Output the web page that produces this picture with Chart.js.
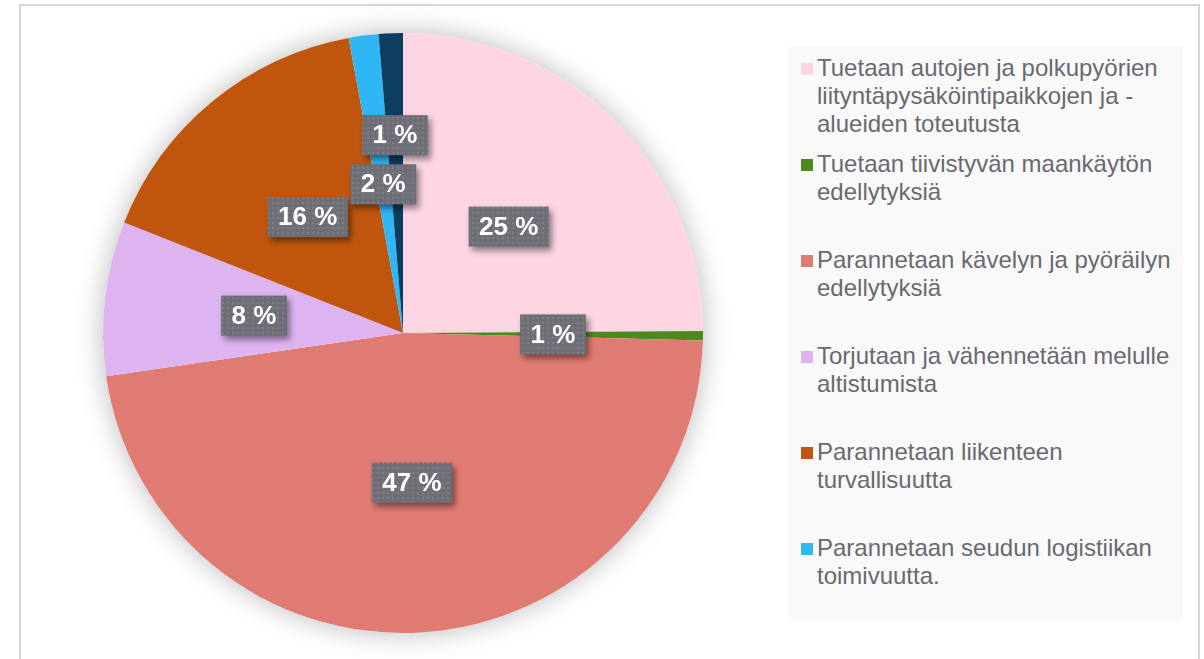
<!DOCTYPE html>
<html lang="fi">
<head>
<meta charset="utf-8">
<title>Toimenpiteiden jakauma</title>
<script src="https://cdn.jsdelivr.net/npm/chart.js@4.4.1/dist/chart.umd.min.js"></script>
<style>
  html, body {
    margin: 0;
    padding: 0;
    width: 1204px;
    height: 659px;
    overflow: hidden;
    background: #ffffff;
    font-family: "Liberation Sans", Arial, sans-serif;
  }
  #frame {
    position: absolute;
    left: 19px;
    top: 4px;
    width: 1177px;
    height: 700px;
    border: 2px solid #d6d6d6;
    border-bottom: none;
  }
  #wrap {
    position: absolute;
    left: 0;
    top: 0;
    width: 1204px;
    height: 659px;
  }
  #legend {
    position: absolute;
    left: 788px;
    top: 47px;
    width: 395px;
    height: 574px;
    background: #f9f9f9;
    box-sizing: border-box;
    padding: 7px 0 0 13px;
  }
  .item {
    display: flex;
    align-items: flex-start;
    height: 96px;
  }
  .swatch {
    width: 12px;
    height: 12px;
    margin-top: 9px;
    margin-right: 4px;
    flex: none;
  }
  .text {
    width: 365px;
    font-size: 24px;
    line-height: 28px;
    color: #69696f;
  }
</style>
</head>
<body>
<div id="frame"></div>
<div id="wrap"><canvas id="chartPie" width="1204" height="659"></canvas></div>
<div id="legend"></div>

<script>
// luokat ja osuudet (%)
const categories = [
  'Tuetaan autojen ja polkupyörien liityntäpysäköintipaikkojen ja -\u200Balueiden toteutusta',
  'Tuetaan tiivistyvän maankäytön edellytyksiä',
  'Parannetaan kävelyn ja pyöräilyn edellytyksiä',
  'Torjutaan ja vähennetään melulle altistumista',
  'Parannetaan liikenteen turvallisuutta',
  'Parannetaan seudun logistiikan toimivuutta.',
  'Muut'
];
const shares = [24.9, 0.5, 47.3, 8.3, 16.1, 1.6, 1.3];
const sliceColors = ['#fdd5e3', '#4a8a1f', '#e07b73', '#ddb4f0', '#c0560e', '#2fb6f4', '#0c3e62'];

// Excelin selite näyttää vain kuusi ensimmäistä
const legendCount = 6;

// harmaa pisterasteri tunnisteiden taustaksi
function makeDotPattern(ctx) {
  const c = document.createElement('canvas');
  c.width = 5;
  c.height = 5;
  const p = c.getContext('2d');
  p.fillStyle = '#6e6e76';
  p.fillRect(0, 0, 5, 5);
  p.fillStyle = '#7e7e87';
  p.fillRect(2, 2, 2, 2);
  return ctx.createPattern(c, 'repeat');
}

// kevyt varjo koko ympyrän ympärille
const pieShadowPlugin = {
  id: 'pieShadow',
  beforeDatasetsDraw: function(chart) {
    const arc = chart.getDatasetMeta(0).data[0];
    if (!arc) return;
    const p = arc.getProps(['x', 'y', 'outerRadius'], true);
    const ctx = chart.ctx;
    ctx.save();
    ctx.beginPath();
    ctx.arc(p.x, p.y, p.outerRadius, 0, Math.PI * 2);
    ctx.fillStyle = '#ffffff';
    ctx.shadowColor = 'rgba(0, 0, 0, 0.28)';
    ctx.shadowBlur = 28;
    ctx.fill();
    ctx.restore();
  }
};

// prosenttitunnisteet harmaissa laatikoissa
const boxLabelPlugin = {
  id: 'boxLabels',
  afterDatasetsDraw: function(chart, args, opts) {
    const ctx = chart.ctx;
    const meta = chart.getDatasetMeta(0);
    const values = chart.data.datasets[0].data;
    const pattern = makeDotPattern(ctx);

    ctx.save();
    ctx.font = 'bold 26px "Liberation Sans", Arial, sans-serif';
    ctx.textAlign = 'center';
    ctx.textBaseline = 'middle';

    meta.data.forEach((arc, i) => {
      const p = arc.getProps(['x', 'y', 'startAngle', 'endAngle', 'outerRadius'], true);
      const mid = (p.startAngle + p.endAngle) / 2;
      const factor = opts.radius[i] !== undefined ? opts.radius[i] : 0.5;
      const cx = p.x + Math.cos(mid) * p.outerRadius * factor;
      const cy = p.y + Math.sin(mid) * p.outerRadius * factor;

      const text = Math.round(values[i]) + ' %';
      const w = ctx.measureText(text).width + 21;
      const h = 40;

      ctx.save();
      ctx.shadowColor = 'rgba(0, 0, 0, 0.45)';
      ctx.shadowBlur = 6;
      ctx.shadowOffsetX = 3;
      ctx.shadowOffsetY = 4;
      ctx.fillStyle = pattern;
      ctx.fillRect(cx - w / 2, cy - h / 2, w, h);
      ctx.restore();

      ctx.fillStyle = '#ffffff';
      ctx.fillText(text, cx, cy + 1);
    });
    ctx.restore();
  }
};

const chart = new Chart(document.getElementById('chartPie'), {
  type: 'pie',
  data: {
    labels: categories,
    datasets: [{
      data: shares,
      backgroundColor: sliceColors,
      borderWidth: 0
    }]
  },
  options: {
    responsive: false,
    animation: false,
    layout: {
      padding: { left: 103, right: 501, top: 33, bottom: 26 }
    },
    plugins: {
      legend: { display: false },
      tooltip: { enabled: false },
      boxLabels: {
        radius: { 6: 0.66 }
      }
    }
  },
  plugins: [pieShadowPlugin, boxLabelPlugin]
});

// HTML-selite
const legendEl = document.getElementById('legend');
chart.data.labels.slice(0, legendCount).forEach((label, i) => {
  const item = document.createElement('div');
  item.className = 'item';
  const sw = document.createElement('span');
  sw.className = 'swatch';
  sw.style.background = sliceColors[i];
  const tx = document.createElement('span');
  tx.className = 'text';
  tx.textContent = label;
  item.appendChild(sw);
  item.appendChild(tx);
  legendEl.appendChild(item);
});
</script>
</body>
</html>
